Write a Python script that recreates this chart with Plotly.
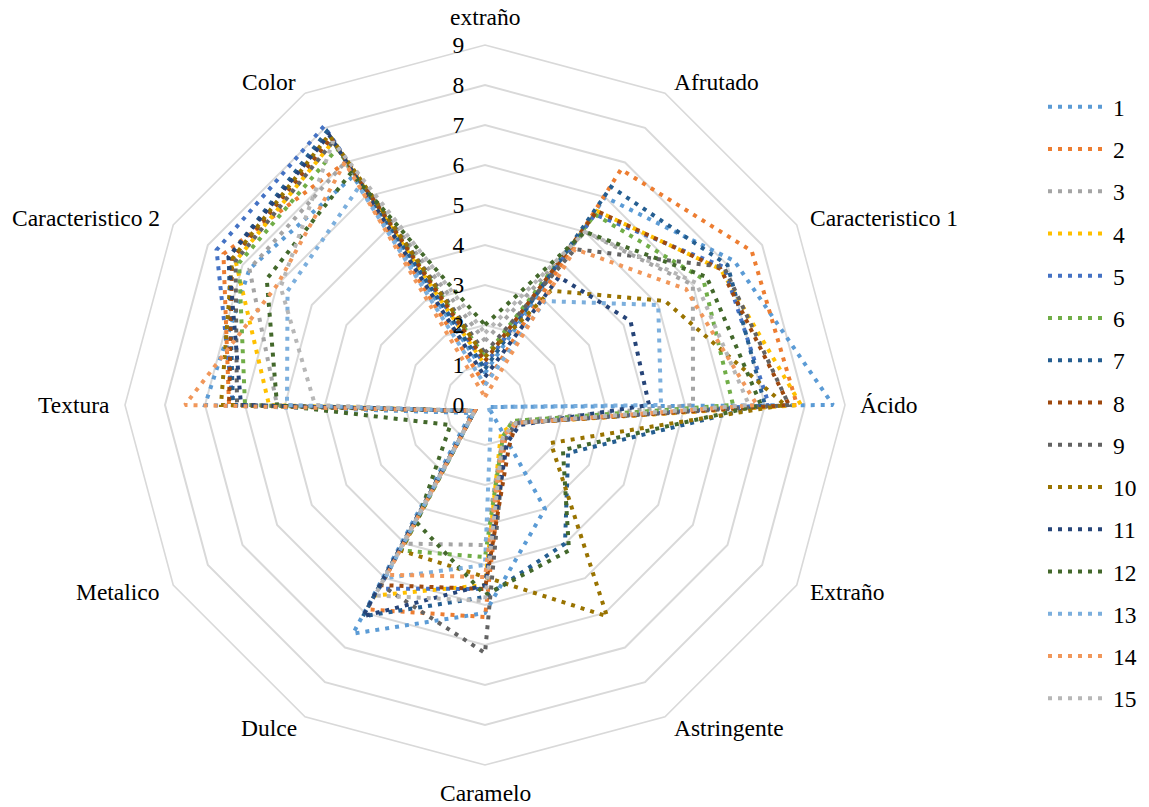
import math
import plotly.graph_objects as go

# Sensory attributes, clockwise from the top
attributes = ["extraño", "Afrutado", "Caracteristico 1", "Ácido", "Extraño",
              "Astringente", "Caramelo", "Dulce", "Metalico", "Textura",
              "Caracteristico 2", "Color"]

# Panel scores per sample (same order as attributes)
s1 = [0.8, 6.0, 7.2, 8.7, 0.1, 3.0, 5.2, 6.6, 0.4, 7.0, 6.8, 6.6]
s2 = [0.5, 6.8, 7.7, 7.8, 0.9, 1.0, 5.3, 5.9, 0.3, 6.4, 7.55, 7.0]
s3 = [1.6, 5.0, 6.0, 5.2, 0.8, 0.9, 3.5, 4.0, 0.3, 5.2, 6.8, 7.0]
s4 = [1.0, 5.6, 6.8, 7.9, 0.9, 0.8, 4.5, 5.5, 0.3, 5.4, 7.2, 7.6]
s5 = [1.0, 5.5, 6.9, 7.1, 0.9, 1.0, 4.6, 5.3, 0.3, 6.3, 7.75, 8.05]
s6 = [1.2, 5.5, 6.3, 6.2, 0.8, 0.9, 3.8, 4.2, 0.3, 6.0, 7.1, 7.4]
s7 = [0.9, 6.3, 7.0, 7.0, 2.4, 4.0, 4.8, 6.1, 0.3, 6.3, 7.4, 7.9]
s8 = [1.1, 5.6, 6.8, 7.6, 0.9, 1.2, 4.6, 5.2, 0.3, 6.4, 7.3, 7.7]
s9 = [1.3, 4.5, 6.9, 7.6, 0.9, 1.0, 6.2, 5.2, 0.3, 6.2, 7.2, 7.6]
s10 = [1.2, 3.3, 5.2, 7.5, 1.9, 6.1, 4.3, 4.2, 0.3, 6.6, 7.3, 7.8]
s11 = [0.7, 3.7, 4.2, 4.1, 1.0, 1.1, 4.5, 6.1, 0.3, 6.1, 7.4, 7.8]
s12 = [2.0, 5.0, 6.4, 6.9, 2.25, 4.2, 4.75, 3.4, 1.0, 5.2, 6.3, 6.7]
s13 = [0.5, 3.0, 5.0, 4.4, 0.1, 0.3, 4.0, 5.0, 0.3, 4.95, 5.7, 6.3]
s14 = [0.2, 4.5, 5.8, 6.8, 0.9, 0.9, 4.3, 4.9, 0.3, 7.5, 6.0, 7.0]
s15 = [1.8, 5.0, 6.1, 6.6, 0.9, 0.9, 4.9, 5.5, 0.3, 4.25, 5.9, 7.6]

series_names = [str(i) for i in range(1, 16)]
series_values = [s1, s2, s3, s4, s5, s6, s7, s8, s9, s10, s11, s12, s13, s14, s15]
series_colors = ["#5B9BD5", "#ED7D31", "#A5A5A5", "#FFC000", "#4472C4",
                 "#70AD47", "#255E91", "#9E480E", "#636363", "#997300",
                 "#264478", "#43682B", "#7CAFDD", "#F1975A", "#B7B7B7"]

radial_ticks = list(range(0, 10))

FONT = "Liberation Serif, Times New Roman, serif"
FS = 23.5

fig = go.Figure()
for name, vals, col in zip(series_names, series_values, series_colors):
    fig.add_trace(go.Scatterpolar(
        r=vals + vals[:1],
        theta=attributes + attributes[:1],
        mode="lines",
        name=name,
        legendgroup=name,
        line=dict(color=col, width=4, dash="4px,6px"),
    ))

W, H = 1149, 807
cx, cy, R = 485, 405, 360

# Category labels placed just outside the outer ring, anchored on the side
# facing away from the centre.
label_gap = 13
annotations = []
n = len(attributes)
for i, lab in enumerate(attributes):
    ang = math.radians(90 - 360 * i / n)
    c, s = math.cos(ang), math.sin(ang)
    px = cx + (R + label_gap) * c
    py = cy - (R + label_gap) * s
    if abs(c) < 0.1:
        xa = "center"
        ya = "bottom" if s > 0 else "top"
    else:
        xa = "left" if c > 0 else "right"
        ya = "middle"
    annotations.append(dict(
        x=px / W, y=1 - py / H, xref="paper", yref="paper",
        text=lab, showarrow=False, xanchor=xa, yanchor=ya,
        font=dict(family=FONT, size=FS, color="#000000"),
    ))

fig.update_layout(
    width=W, height=H,
    margin=dict(l=0, r=0, t=0, b=0),
    paper_bgcolor="white",
    plot_bgcolor="white",
    font=dict(family=FONT, size=FS, color="#000000"),
    annotations=annotations,
    polar=dict(
        domain=dict(x=[(cx - R) / W, (cx + R) / W],
                    y=[(H - cy - R) / H, (H - cy + R) / H]),
        bgcolor="white",
        gridshape="linear",
        radialaxis=dict(
            range=[0, 9],
            tickvals=radial_ticks,
            ticktext=[str(t) for t in radial_ticks],
            angle=90,
            tickangle=90,
            side="counterclockwise",
            showline=False,
            gridcolor="#D9D9D9",
            gridwidth=1.6,
            ticks="outside",
            ticklen=12,
            tickcolor="rgba(0,0,0,0)",
            tickfont=dict(family=FONT, size=FS, color="#000000"),
        ),
        angularaxis=dict(
            rotation=90,
            direction="clockwise",
            showgrid=False,
            showline=True,
            linecolor="#D9D9D9",
            linewidth=1.6,
            ticks="",
            showticklabels=False,
        ),
    ),
    legend=dict(
        x=1043 / W, y=1 - 85 / H, xanchor="left", yanchor="top",
        font=dict(family=FONT, size=FS, color="#000000"),
        bgcolor="rgba(0,0,0,0)",
        itemwidth=60,
        tracegroupgap=8.7,
    ),
    showlegend=True,
)

fig.write_html("out.html")
